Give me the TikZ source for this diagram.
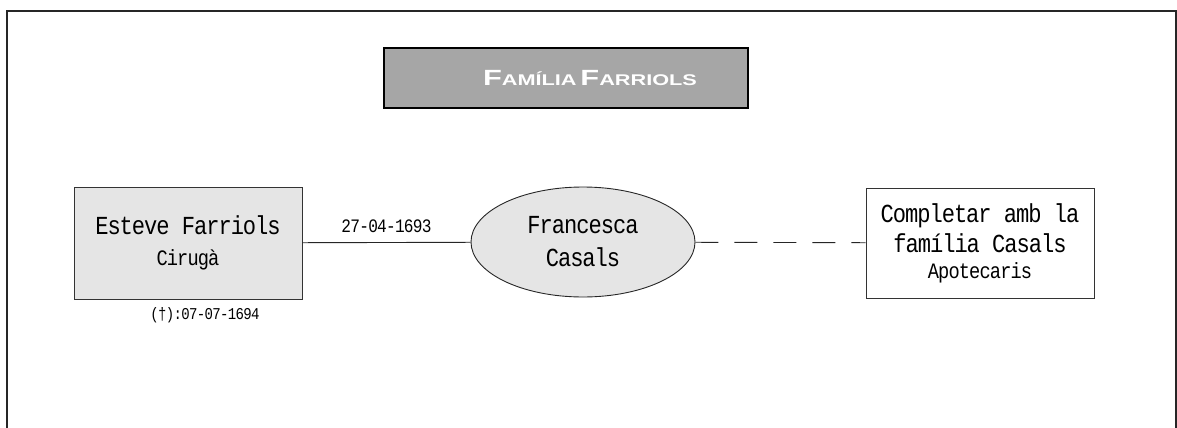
\documentclass[tikz,border=0pt]{standalone}
\usepackage{fontspec}
\usepackage{tikz}
\usetikzlibrary{positioning, shapes.geometric}

\newfontfamily\persfont{Liberation Mono}[FakeStretch=0.85, LetterSpace=-4]
\newfontfamily\titlefont{Liberation Sans Bold}[FakeStretch=1.4]

\begin{document}
\begin{tikzpicture}[
    x=1pt, y=-1pt,
    frame/.style={draw=black!85, line width=1.5pt},
    titlebox/.style={rectangle, draw=black, line width=2.5pt, fill=black!35, minimum width=364pt, minimum height=60pt, inner sep=0pt, text=white, font=\titlefont},
    person/.style={rectangle, draw=black!80, line width=0.9pt, fill=black!10, minimum width=228pt, minimum height=112pt, align=center, inner sep=0pt, font=\persfont\fontsize{26}{30}\selectfont},
    family/.style={person, fill=white, minimum height=110pt},
    spouse/.style={ellipse, draw=black!85, line width=0.9pt, fill=black!10, minimum width=224pt, minimum height=110pt, align=center, inner sep=0pt, font=\persfont\fontsize{26}{33}\selectfont},
    datelabel/.style={font=\persfont\fontsize{19}{22}\selectfont, inner sep=2pt},
    link/.style={draw=black!85, line width=0.9pt},
    dashlink/.style={link, dash pattern=on 23pt off 16pt}
]
\useasboundingbox (0,0) rectangle (1177,428);

% outer frame, open at the bottom
\coordinate (fbl) at (7,428);
\coordinate (ftl) at (7,11);
\coordinate (ftr) at (1176,11);
\coordinate (fbr) at (1176,428);
\draw[frame] (fbl) -- (ftl) -- (ftr) -- (fbr);

\node[titlebox] (title) at (566,78) {\hspace*{48pt}{\fontsize{22}{26}\selectfont F}{\fontsize{15.5}{20}\selectfont AMÍLIA} {\fontsize{22}{26}\selectfont F}{\fontsize{15.5}{20}\selectfont ARRIOLS}};

\node[person] (esteve) at (188,243) {Esteve Farriols\\[1pt]{\fontsize{22}{26}\selectfont Cirugà}};
\node[spouse] (francesca) at (583,242) {Francesca\\Casals};
\node[family] (casals) at (980,243) {\fontsize{26}{26}\selectfont Completar amb la\\família Casals\\[-4pt]{\fontsize{22}{24}\selectfont Apotecaris}};

\node[datelabel, font=\persfont\fontsize{16.5}{20}\selectfont, below=6pt of esteve, xshift=17pt] (death) {(†):07-07-1694};

\draw[link] (esteve) -- node[datelabel, above=7pt] (wedding) {27-04-1693} (francesca);
\draw[dashlink] (francesca) -- (casals);

\end{tikzpicture}
\end{document}
